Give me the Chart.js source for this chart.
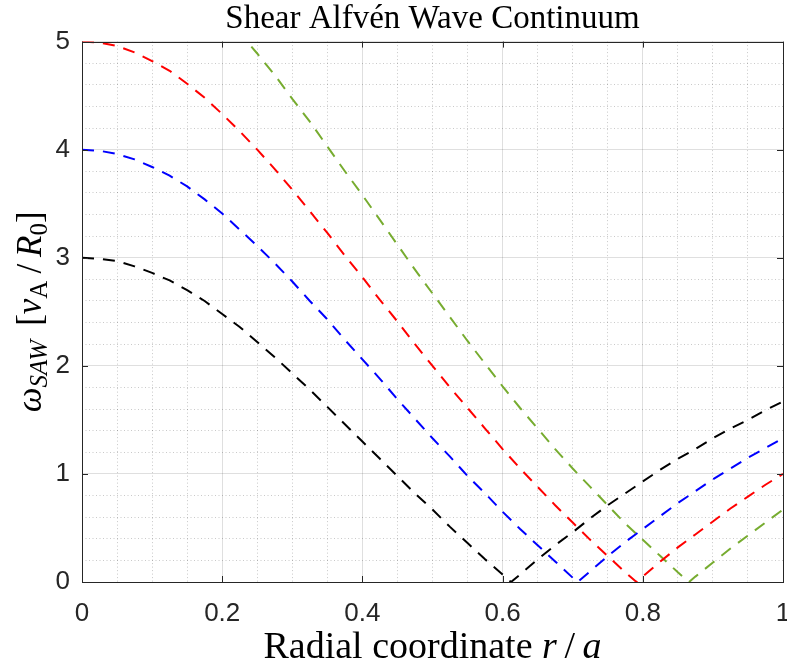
<!DOCTYPE html>
<html>
<head>
<meta charset="utf-8">
<script src="https://cdn.jsdelivr.net/npm/chart.js@4/dist/chart.umd.min.js"></script>
<style>
  body { margin: 0; background: #fff; }
  #wrap { width: 787px; height: 670px; }
</style>
</head>
<body>
<div id="wrap"><canvas id="saw-chart"></canvas></div>
<script>
const radius = [0, 0.025, 0.05, 0.075, 0.1, 0.125, 0.15, 0.175, 0.2, 0.225, 0.25, 0.275, 0.3, 0.325, 0.35, 0.375, 0.4, 0.425, 0.45, 0.475, 0.5,
  0.525, 0.55, 0.575, 0.6, 0.625, 0.65, 0.675, 0.7, 0.725, 0.75, 0.775, 0.8, 0.825, 0.85, 0.875, 0.9, 0.925, 0.95, 0.975, 1];

const omegaBlack = [3.00, 2.99, 2.97, 2.92, 2.86, 2.79, 2.70, 2.60, 2.48, 2.36, 2.22, 2.08, 1.93, 1.78, 1.62, 1.46, 1.30, 1.14, 0.98, 0.82, 0.67,
  0.51, 0.36, 0.21, 0.07, 0.07, 0.21, 0.34, 0.46, 0.59, 0.71, 0.82, 0.93, 1.04, 1.14, 1.23, 1.33, 1.42, 1.50, 1.59, 1.67];
const omegaBlue = [4.00, 3.99, 3.96, 3.91, 3.84, 3.76, 3.66, 3.54, 3.41, 3.26, 3.11, 2.95, 2.78, 2.60, 2.43, 2.24, 2.06, 1.88, 1.69, 1.51, 1.33,
  1.16, 0.98, 0.82, 0.65, 0.49, 0.34, 0.19, 0.04, 0.10, 0.24, 0.37, 0.49, 0.61, 0.73, 0.84, 0.95, 1.05, 1.15, 1.24, 1.33];
const omegaRed = [5.00, 4.99, 4.96, 4.90, 4.82, 4.73, 4.61, 4.48, 4.33, 4.17, 4.00, 3.82, 3.63, 3.43, 3.23, 3.02, 2.82, 2.61, 2.41, 2.20, 2.00,
  1.80, 1.61, 1.42, 1.23, 1.05, 0.88, 0.71, 0.55, 0.39, 0.24, 0.09, 0.05, 0.19, 0.32, 0.44, 0.56, 0.68, 0.79, 0.90, 1.00];
const omegaGreen = [6.00, 5.99, 5.95, 5.89, 5.80, 5.70, 5.57, 5.42, 5.26, 5.08, 4.89, 4.69, 4.47, 4.26, 4.03, 3.80, 3.58, 3.35, 3.12, 2.89, 2.67,
  2.45, 2.23, 2.02, 1.81, 1.61, 1.42, 1.23, 1.05, 0.88, 0.71, 0.54, 0.39, 0.24, 0.09, 0.05, 0.18, 0.31, 0.43, 0.55, 0.67];

// where each branch touches zero
const zeroAt = [0.612, 0.707, 0.791, 0.866];

const xTicks = [0, 0.2, 0.4, 0.6, 0.8, 1];
const yTicks = [0, 1, 2, 3, 4, 5];

function branch(values, root) {
  const pts = radius.map((r, i) => ({ x: r, y: values[i] }));
  pts.push({ x: root, y: 0 });
  pts.sort((a, b) => a.x - b.x);
  return pts;
}

function line(values, root, color) {
  return {
    data: branch(values, root),
    borderColor: color,
    borderWidth: 2,
    borderDash: [12, 9],
    pointRadius: 0,
    tension: 0,
    fill: false,
  };
}

const axisColor = "#262626";
const serif = "'Liberation Serif'";

function isMultiple(v, step) {
  const k = v / step;
  return Math.abs(k - Math.round(k)) < 1e-6;
}

// draws box, inward ticks and the two axis labels
const decorations = {
  id: "decorations",
  afterDatasetsDraw(chart) {
    const { ctx, chartArea: a, scales } = chart;
    ctx.save();
    ctx.strokeStyle = axisColor;
    ctx.lineWidth = 1;
    ctx.setLineDash([]);
    ctx.strokeRect(Math.round(a.left) + 0.5, Math.round(a.top) + 0.5, Math.round(a.right - a.left), Math.round(a.bottom - a.top));
    ctx.beginPath();
    xTicks.forEach((v) => {
      const px = Math.round(scales.x.getPixelForValue(v)) + 0.5;
      ctx.moveTo(px, a.bottom); ctx.lineTo(px, a.bottom - 6);
      ctx.moveTo(px, a.top); ctx.lineTo(px, a.top + 6);
    });
    yTicks.forEach((v) => {
      const py = Math.round(scales.y.getPixelForValue(v)) + 0.5;
      ctx.moveTo(a.left, py); ctx.lineTo(a.left + 6, py);
      ctx.moveTo(a.right, py); ctx.lineTo(a.right - 6, py);
    });
    ctx.stroke();

    // x label
    ctx.fillStyle = "#000";
    ctx.textBaseline = "alphabetic";
    const xParts = [
      ["Radial coordinate ", `38px ${serif}`, 0],
      ["r", `italic 38px ${serif}`, 0],
      ["\u2009/\u2009", `38px ${serif}`, 0],
      ["a", `italic 38px ${serif}`, 0],
    ];
    drawParts(ctx, xParts, (a.left + a.right) / 2, 658);

    // y label, rotated
    ctx.translate(41, (a.top + a.bottom) / 2);
    ctx.rotate(-Math.PI / 2);
    const yParts = [
      ["\u03C9", `italic 35px ${serif}`, 0],
      ["SAW", `italic 25px ${serif}`, 6],
      ["\u2009\u2009[", `35px ${serif}`, 0],
      ["v", `italic 35px ${serif}`, 0],
      ["A", `25px ${serif}`, 6],
      ["\u2009/\u2009", `35px ${serif}`, 0],
      ["R", `italic 35px ${serif}`, 0],
      ["0", `25px ${serif}`, 6],
      ["]", `35px ${serif}`, 0],
    ];
    drawParts(ctx, yParts, 0, 0);
    ctx.restore();
  },
};

function drawParts(ctx, parts, cx, baseY) {
  let total = 0;
  parts.forEach((p) => { ctx.font = p[1]; total += ctx.measureText(p[0]).width; });
  let x = cx - total / 2;
  parts.forEach((p) => {
    ctx.font = p[1];
    ctx.textAlign = "left";
    ctx.fillText(p[0], x, baseY + p[2]);
    x += ctx.measureText(p[0]).width;
  });
}

new Chart("saw-chart", {
  type: "line",
  data: {
    datasets: [
      line(omegaBlack, zeroAt[0], "#000000"),
      line(omegaBlue, zeroAt[1], "#0000ff"),
      line(omegaRed, zeroAt[2], "#ff0000"),
      line(omegaGreen, zeroAt[3], "#77ac30"),
    ],
  },
  options: {
    responsive: true,
    maintainAspectRatio: false,
    animation: false,
    layout: { padding: { left: 0, right: 4, top: 0, bottom: 0 } },
    plugins: {
      legend: { display: false },
      tooltip: { enabled: false },
      title: {
        display: true,
        fullSize: false,
        text: "Shear Alfv\u00e9n Wave Continuum",
        color: "#000",
        font: { family: serif, size: 33, weight: "normal", lineHeight: 1.2 },
        padding: { top: 0, bottom: 2 },
      },
    },
    scales: {
      xMinor: {
        type: "linear", position: "bottom", min: 0, max: 1,
        ticks: { display: false, stepSize: 0.05 },
        border: { display: false, dash: [1, 2.5] },
        grid: {
          drawTicks: false,
          color: (c) => (isMultiple(c.tick.value, 0.2) ? "transparent" : "rgba(38,38,38,0.25)"),
        },
        afterFit: (s) => { s.height = 0; s.paddingLeft = 0; s.paddingRight = 0; },
      },
      yMinor: {
        type: "linear", position: "left", min: 0, max: 5,
        ticks: { display: false, stepSize: 0.2 },
        border: { display: false, dash: [1, 2.5] },
        grid: {
          drawTicks: false,
          color: (c) => (isMultiple(c.tick.value, 1) ? "transparent" : "rgba(38,38,38,0.25)"),
        },
        afterFit: (s) => { s.width = 0; s.paddingTop = 0; s.paddingBottom = 0; },
      },
      x: {
        type: "linear", position: "bottom", min: 0, max: 1,
        ticks: {
          stepSize: 0.2,
          padding: 16,
          color: axisColor,
          font: { family: "'Liberation Sans'", size: 26 },
          maxRotation: 0,
          callback: (v) => String(+v.toFixed(2)),
        },
        border: { display: false },
        grid: { drawTicks: false, color: "rgba(38,38,38,0.15)" },
        afterFit: (s) => { s.height = 88; s.paddingLeft = 0; s.paddingRight = 0; },
      },
      y: {
        type: "linear", position: "left", min: 0, max: 5,
        ticks: {
          stepSize: 1,
          padding: 12,
          color: axisColor,
          font: { family: "'Liberation Sans'", size: 26 },
        },
        border: { display: false },
        grid: { drawTicks: false, color: "rgba(38,38,38,0.15)" },
        afterFit: (s) => { s.width = 82; s.paddingTop = 0; s.paddingBottom = 0; },
      },
    },
  },
  plugins: [decorations],
});
</script>
</body>
</html>
